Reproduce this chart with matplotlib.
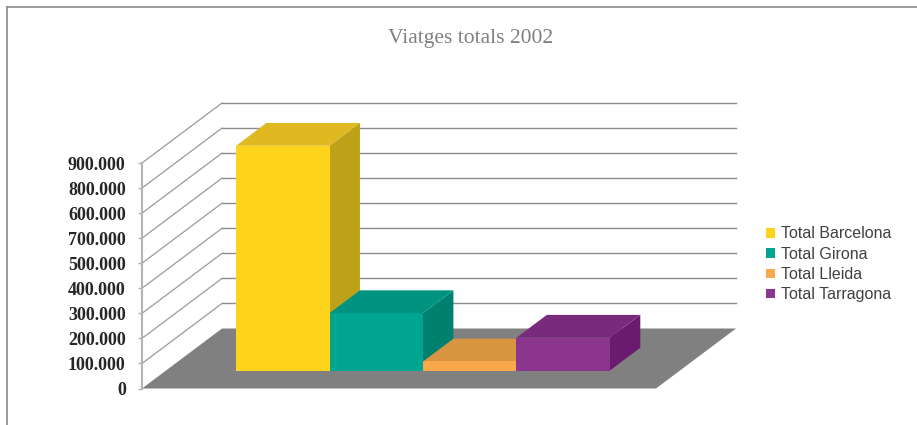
import matplotlib
matplotlib.use("Agg")
import matplotlib.pyplot as plt
from matplotlib.patches import Polygon, Patch
from matplotlib.lines import Line2D

# ---- data ----
series = ["Total Barcelona", "Total Girona", "Total Lleida", "Total Tarragona"]
values = [897000, 229000, 36000, 131000]
tick_values = [0, 100000, 200000, 300000, 400000, 500000, 600000, 700000, 800000, 900000]
tick_labels = ["0", "100.000", "200.000", "300.000", "400.000", "500.000",
               "700.000", "600.000", "800.000", "900.000"]
title = "Viatges totals 2002"

# ---- style ----
front_cols = ["#FDD31C", "#00A591", "#F9A84B", "#8B358F"]
top_cols = ["#DFB91F", "#009480", "#D9943F", "#7A2A7D"]
side_cols = ["#BEA118", "#008170", "#C07F30", "#6A1B6D"]
W, H = 917, 425
fig = plt.figure(figsize=(W / 100, H / 100), dpi=100)
ax_left, ax_bot, ax_w, ax_h = 142, 388.5, 514, 225.5   # pixels
ax = fig.add_axes([ax_left / W, (H - ax_bot) / H, ax_w / W, ax_h / H])
ax.set_xlim(0, 1)
ax.set_ylim(0, 900000)
ax.patch.set_visible(False)

# depth (3D) offsets expressed in data units
DXp, DYp = 80, 60
dx = DXp / ax_w * 1.0
dy = DYp / ax_h * 900000


def P(x, v, z):
    return (x + z * dx, v + z * dy)


# gridlines: diagonal on the left side wall and horizontal on back wall
for v in tick_values[1:]:
    ax.plot(*zip(P(0, v, 0), P(0, v, 1)), color="#9a9a9a", lw=0.9, clip_on=False, zorder=1)
    ax.plot(*zip(P(0, v, 1), P(1, v, 1)), color="#8c8c8c", lw=1.0, clip_on=False, zorder=1)

# floor
ax.add_patch(Polygon([P(0, 0, 0), P(1, 0, 0), P(1, 0, 1), P(0, 0, 1)], closed=True,
                     facecolor="#808080", edgecolor="none", clip_on=False, zorder=2))

# bars
n = len(values)
gap = 1.5
bw = 1.0 / (n + gap)
z0, z1 = 0.30, 0.68
for i, (v, fc, tc, sc) in enumerate(zip(values, front_cols, top_cols, side_cols)):
    x0 = gap / 2 * bw + i * bw
    x1 = x0 + bw
    zo = 3 + i
    side = [P(x1, 0, z0), P(x1, 0, z1), P(x1, v, z1), P(x1, v, z0)]
    top = [P(x0, v, z0), P(x1, v, z0), P(x1, v, z1), P(x0, v, z1)]
    front = [P(x0, 0, z0), P(x1, 0, z0), P(x1, v, z0), P(x0, v, z0)]
    ax.add_patch(Polygon(side, closed=True, facecolor=sc, edgecolor="none", clip_on=False, zorder=zo))
    ax.add_patch(Polygon(top, closed=True, facecolor=tc, edgecolor="none", clip_on=False, zorder=zo))
    ax.add_patch(Polygon(front, closed=True, facecolor=fc, edgecolor="none", clip_on=False, zorder=zo))

# axes styling
for s in ["top", "right", "bottom"]:
    ax.spines[s].set_visible(False)
ax.spines["left"].set_color("#b3b3b3")
ax.spines["left"].set_linewidth(1.5)
ax.spines["left"].set_zorder(2.5)
ax.set_xticks([])
ax.set_yticks(tick_values)
ax.set_yticklabels(tick_labels, fontfamily="Liberation Serif", fontweight="bold",
                   fontsize=13, color="#262626")
ax.tick_params(axis="y", length=3.2, width=1.0, color="#b3b3b3", pad=8.5)

# title
fig.text(471 / W, 1 - 39 / H, title, ha="center", va="center",
         fontfamily="Liberation Serif", fontsize=15.5, color="#808080")

# frame
fig.add_artist(Line2D([7.3 / W, 7.3 / W], [0, 1 - 6.7 / H], transform=fig.transFigure,
                      color="#8a8a8a", lw=1.2))
fig.add_artist(Line2D([7.3 / W, 1], [1 - 6.7 / H, 1 - 6.7 / H], transform=fig.transFigure,
                      color="#8a8a8a", lw=1.2))

# legend
handles = [Patch(facecolor=c, edgecolor="none") for c in front_cols]
leg = fig.legend(handles, series, loc="upper left", bbox_to_anchor=(766 / W, 1 - 226.5 / H),
                 frameon=False, prop={"family": "Liberation Sans", "size": 11.5},
                 handlelength=0.55, handleheight=0.55, handletextpad=0.4,
                 labelspacing=0.33, borderpad=0, borderaxespad=0)
for t in leg.get_texts():
    t.set_color("#404040")

fig.savefig("out.png", dpi=100)
